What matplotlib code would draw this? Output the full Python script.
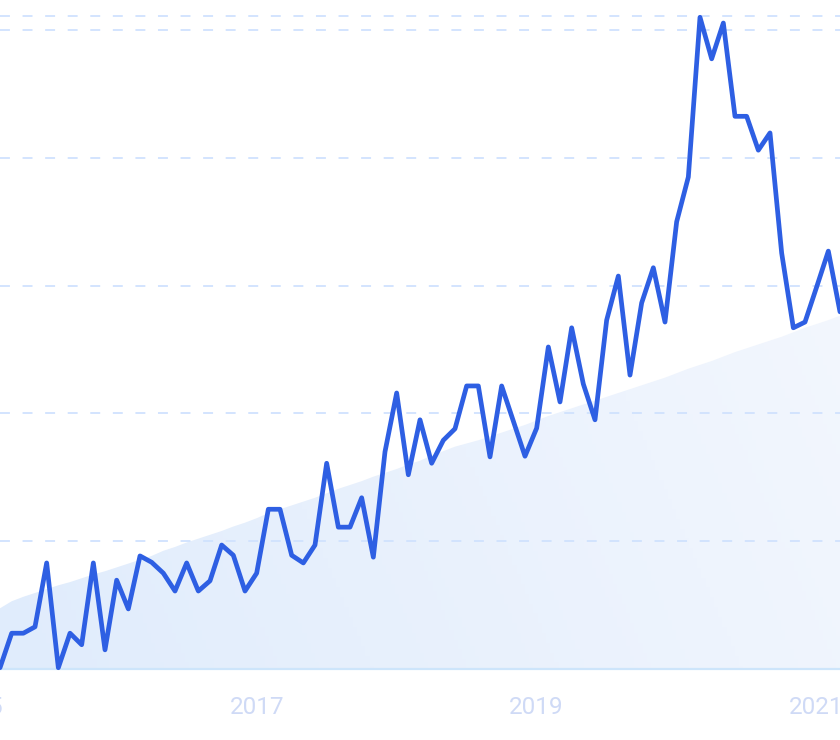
import matplotlib
matplotlib.use("Agg")
import matplotlib.pyplot as plt
import numpy as np
from matplotlib.colors import LinearSegmentedColormap

# Monthly index (0 = Jan 2015); series runs Mar 2015 .. Mar 2021
start_month = 2
values = [0.2, 5.6, 5.6, 6.6, 16.6, 0.2, 5.6, 3.8, 16.6, 3.0, 13.9, 9.4,
          17.7, 16.7, 15.0, 12.2, 16.6, 12.2, 13.8, 19.4, 17.8, 12.2, 15.0, 25.0,
          25.0, 17.8, 16.6, 19.4, 32.2, 22.2, 22.2, 26.8, 17.5, 34.0, 43.2, 30.4,
          39.0, 32.2, 35.8, 37.6, 44.3, 44.3, 33.2, 44.3, 38.8, 33.3, 37.7, 50.4,
          41.8, 53.4, 44.6, 39.0, 54.6, 61.5, 46.0, 57.3, 62.8, 54.3, 70.0, 77.0,
          102.0, 95.5, 101.1, 86.5, 86.5, 81.2, 83.9, 65.1, 53.4, 54.3, 59.8, 65.4,
          55.9]
trend = [9.5, 10.6, 11.3, 11.9, 12.5, 13.1, 13.6, 14.2, 14.8, 15.3, 15.9, 16.5,
         17.1, 17.7, 18.5, 19.1, 19.8, 20.4, 21.0, 21.6, 22.3, 22.9, 23.6, 24.4,
         25.0, 25.6, 26.2, 26.8, 27.5, 28.2, 28.8, 29.4, 30.1, 30.7, 31.3, 32.0,
         32.6, 33.4, 34.1, 34.8, 35.3, 35.8, 36.4, 37.0, 37.6, 38.2, 38.9, 39.6,
         40.2, 40.8, 41.4, 42.0, 42.6, 43.2, 43.8, 44.4, 45.0, 45.6, 46.3, 47.0,
         47.6, 48.2, 48.9, 49.6, 50.2, 50.8, 51.4, 52.0, 52.7, 53.4, 54.0, 54.6,
         55.3]
year_labels = ["2015", "2017", "2019", "2021"]
year_months = [0, 24, 48, 72]
grid_levels = [20, 40, 60, 80, 100]
y_top = 102.2

x = np.arange(start_month, start_month + len(values))

W, H = 840, 740
fig = plt.figure(figsize=(W / 100, H / 100), dpi=100)
fig.patch.set_facecolor("white")
ax = fig.add_axes([0, 71 / H, 1, (724 - 71) / H])
ax.set_facecolor("white")
ax.set_xlim(x[0], x[-1])
ax.set_ylim(0, y_top)
for s in ax.spines.values():
    s.set_visible(False)
ax.set_xticks([])
ax.set_yticks([])

# gradient trend area
poly = ax.fill_between(x, 0, trend, facecolor="none", edgecolor="none", zorder=1)
cmap = LinearSegmentedColormap.from_list("g", ["#E0ECFC", "#F5F8FE"])
gx, gy = np.meshgrid(np.linspace(0, 1, 200), np.linspace(0, 1, 200))
grad = 0.75 * gx + 0.25 * (1 - gy)
im = ax.imshow(grad, cmap=cmap, extent=[x[0], x[-1], 0, y_top], origin="upper",
               aspect="auto", zorder=1)
im.set_clip_path(poly.get_paths()[0], transform=ax.transData)

# grid lines
for g in grid_levels + [y_top]:
    ax.axhline(g, color="#D0E2FE", lw=1.3, dashes=(5.5, 7), zorder=2, clip_on=False)
ax.axhline(0, color="#CDE5FB", lw=1.6, zorder=2, clip_on=False)

# main line
ax.plot(x, values, color="#2E5FE3", lw=3.4, solid_joinstyle="round",
        solid_capstyle="round", zorder=3, clip_on=False)

# year labels
for m, lab in zip(year_months, year_labels):
    ax.text(m, -39 / 653, lab, transform=ax.get_xaxis_transform(),
            ha="center", va="center", fontsize=17.5, color="#CFDAF6",
            family=["Roboto", "DejaVu Sans"], clip_on=False)

fig.savefig("out.png", dpi=100, facecolor="white")
